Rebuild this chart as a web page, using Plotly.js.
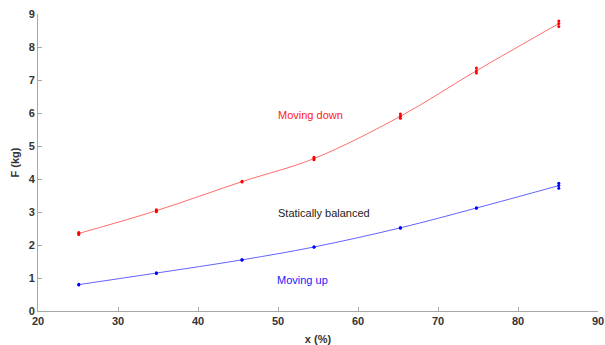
<!DOCTYPE html>
<html>
<head>
<meta charset="utf-8">
<script src="https://cdn.plot.ly/plotly-3.0.1.min.js"></script>
<style>html,body{margin:0;padding:0;background:#fff;}#chart{width:605px;height:345px;}</style>
</head>
<body>
<div id="chart"></div>
<script>
// Mean positions (x in %) and fitted curve values
const xPos = [25.1, 34.8, 45.5, 54.5, 65.3, 74.8, 85.1];
const downMean = [2.35, 3.04, 3.92, 4.62, 5.90, 7.28, 8.71];
const upMean = [0.80, 1.15, 1.55, 1.94, 2.52, 3.12, 3.80];

// Repeated measurements
const downSampleX = [25.1, 25.1, 25.1, 34.8, 34.8, 34.8, 45.5, 45.5, 54.5, 54.5, 54.5, 65.3, 65.3, 65.3, 74.8, 74.8, 74.8, 85.1, 85.1, 85.1];
const downSampleY = [2.32, 2.35, 2.38, 3.01, 3.04, 3.07, 3.91, 3.93, 4.58, 4.62, 4.66, 5.84, 5.90, 5.97, 7.21, 7.28, 7.36, 8.62, 8.71, 8.79];
const upSampleX = [25.1, 25.1, 34.8, 34.8, 45.5, 45.5, 54.5, 54.5, 65.3, 65.3, 74.8, 74.8, 85.1, 85.1, 85.1];
const upSampleY = [0.79, 0.81, 1.14, 1.16, 1.54, 1.56, 1.93, 1.95, 2.51, 2.53, 3.11, 3.13, 3.72, 3.80, 3.87];

const labelText = ["Moving down", "Statically balanced", "Moving up"];
const labelX = [54.0, 55.7, 53.1];
const labelY = [5.95, 2.97, 0.95];
const labelColor = ["#ff2020", "#222222", "#2020ff"];

const traces = [
  {x: xPos, y: downMean, mode: 'lines', line: {color: 'rgba(255,60,60,0.75)', width: 1, shape: 'spline'}, hoverinfo: 'skip'},
  {x: xPos, y: upMean, mode: 'lines', line: {color: 'rgba(60,60,255,0.8)', width: 1, shape: 'spline'}, hoverinfo: 'skip'},
  {x: downSampleX, y: downSampleY, mode: 'markers', marker: {color: '#ff0000', size: 3}},
  {x: upSampleX, y: upSampleY, mode: 'markers', marker: {color: '#0000ff', size: 3}}
];

const annotations = labelText.map((t, i) => ({
  x: labelX[i], y: labelY[i], xref: 'x', yref: 'y', text: t, showarrow: false,
  font: {family: 'Arial, Liberation Sans, sans-serif', size: 11, color: labelColor[i]}
}));

const axisCommon = {
  showgrid: false, zeroline: false, showline: true, linecolor: '#a8a8a8', linewidth: 1,
  ticks: 'inside', ticklen: 4, tickcolor: '#a8a8a8',
  tickfont: {family: 'Arial, Liberation Sans, sans-serif', size: 11, color: '#333333', weight: 'bold'}
};

const layout = {
  width: 605, height: 345,
  margin: {l: 38, r: 7, t: 14, b: 34},
  paper_bgcolor: '#ffffff', plot_bgcolor: '#ffffff',
  showlegend: false,
  xaxis: Object.assign({}, axisCommon, {
    range: [20, 90], tickvals: [20, 30, 40, 50, 60, 70, 80, 90],
    title: {text: 'x (%)', standoff: 10, font: {family: 'Arial, Liberation Sans, sans-serif', size: 11, color: '#333333', weight: 'bold'}}
  }),
  yaxis: Object.assign({}, axisCommon, {
    range: [0, 9], tickvals: [0, 1, 2, 3, 4, 5, 6, 7, 8, 9],
    title: {text: 'F (kg)', standoff: 6, font: {family: 'Arial, Liberation Sans, sans-serif', size: 11, color: '#333333', weight: 'bold'}}
  }),
  annotations: annotations
};

Plotly.newPlot('chart', traces, layout, {displayModeBar: false, staticPlot: true});
</script>
</body>
</html>
